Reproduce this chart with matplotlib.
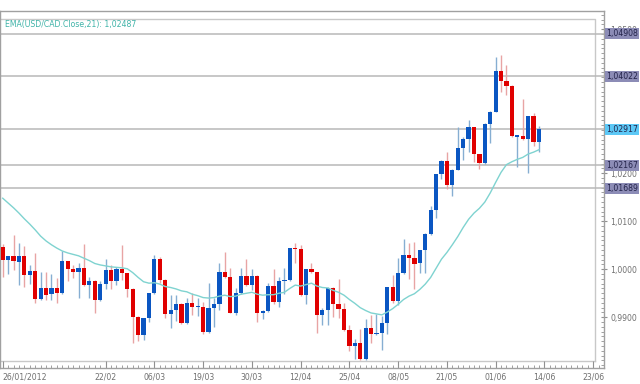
import matplotlib
matplotlib.use("Agg")
import matplotlib.pyplot as plt
from matplotlib.ticker import FixedLocator, FuncFormatter, MultipleLocator
import matplotlib.transforms as mtransforms

# ---------------- data ----------------
opens = [1.0046, 1.0019, 1.0028, 1.0016, 1.0027, 0.9988, 0.9996, 0.9938, 0.9961, 0.9948,
         0.9961, 0.9950, 1.0017, 1.0000, 0.9994, 1.0003, 0.9967, 0.9976, 0.9936, 0.9969,
         0.9998, 0.9976, 1.0000, 0.9992, 0.9959, 0.9901, 0.9863, 0.9898, 0.9950, 1.0021,
         0.9978, 0.9907, 0.9915, 0.9928, 0.9888, 0.9930, 0.9921, 0.9922, 0.9869, 0.9919,
         0.9928, 0.9994, 0.9984, 0.9909, 0.9950, 0.9986, 0.9967, 0.9986, 0.9909, 0.9913,
         0.9965, 0.9932, 0.9976, 0.9978, 1.0044, 1.0042, 0.9946, 1.0000, 0.9994, 0.9905,
         0.9915, 0.9961, 0.9928, 0.9917, 0.9873, 0.9840, 0.9846, 0.9813, 0.9878, 0.9865,
         0.9867, 0.9888, 0.9963, 0.9934, 0.9992, 1.0030, 1.0023, 1.0013, 1.0040, 1.0073,
         1.0123, 1.0198, 1.0226, 1.0176, 1.0207, 1.0253, 1.0271, 1.0296, 1.0240, 1.0221,
         1.0303, 1.0328, 1.0413, 1.0392, 1.0382, 1.0276, 1.0278, 1.0271, 1.0319, 1.0265]
highs = [1.0053, 1.0028, 1.0071, 1.0055, 1.0048, 1.0009, 1.0034, 0.9994, 0.9994, 0.9990,
         0.9982, 1.0038, 1.0018, 1.0009, 1.0013, 1.0053, 0.9984, 0.9977, 0.9976, 1.0021,
         1.0009, 1.0005, 1.0051, 0.9993, 0.9960, 0.9902, 0.9899, 0.9951, 1.0030, 1.0026,
         0.9979, 0.9946, 0.9946, 0.9929, 0.9940, 0.9951, 0.9940, 0.9932, 0.9972, 0.9940,
         1.0013, 1.0036, 1.0003, 0.9961, 1.0003, 1.0021, 1.0000, 0.9987, 0.9915, 0.9972,
         1.0000, 0.9984, 1.0003, 1.0045, 1.0055, 1.0051, 1.0001, 1.0013, 0.9995, 0.9919,
         0.9962, 0.9962, 0.9980, 0.9930, 0.9884, 0.9855, 0.9876, 0.9897, 0.9905, 0.9907,
         0.9903, 0.9964, 0.9988, 1.0023, 1.0063, 1.0055, 1.0057, 1.0041, 1.0076, 1.0132,
         1.0199, 1.0227, 1.0244, 1.0208, 1.0296, 1.0276, 1.0311, 1.0297, 1.0241, 1.0304,
         1.0329, 1.0442, 1.0446, 1.0426, 1.0383, 1.0280, 1.0355, 1.0320, 1.0326, 1.0298]
lows = [0.9984, 0.9990, 0.9998, 0.9967, 0.9963, 0.9969, 0.9930, 0.9936, 0.9936, 0.9936,
        0.9930, 0.9949, 0.9976, 0.9982, 0.9940, 0.9966, 0.9940, 0.9909, 0.9934, 0.9959,
        0.9959, 0.9967, 0.9978, 0.9942, 0.9846, 0.9851, 0.9853, 0.9890, 0.9949, 0.9972,
        0.9898, 0.9878, 0.9892, 0.9887, 0.9887, 0.9905, 0.9903, 0.9865, 0.9867, 0.9880,
        0.9915, 0.9982, 0.9908, 0.9905, 0.9949, 0.9966, 0.9957, 0.9890, 0.9897, 0.9911,
        0.9928, 0.9921, 0.9948, 0.9976, 1.0013, 0.9945, 0.9928, 0.9993, 0.9867, 0.9884,
        0.9884, 0.9901, 0.9898, 0.9872, 0.9830, 0.9813, 0.9812, 0.9812, 0.9846, 0.9863,
        0.9832, 0.9866, 0.9930, 0.9925, 0.9991, 0.9980, 0.9959, 0.9992, 0.9992, 1.0072,
        1.0107, 1.0188, 1.0167, 1.0153, 1.0206, 1.0228, 1.0244, 1.0223, 1.0209, 1.0220,
        1.0263, 1.0327, 1.0369, 1.0363, 1.0276, 1.0213, 1.0269, 1.0201, 1.0257, 1.0244]
closes = [1.0019, 1.0028, 1.0017, 1.0027, 0.9988, 0.9996, 0.9938, 0.9961, 0.9946, 0.9961,
          0.9950, 1.0017, 1.0000, 0.9994, 1.0003, 0.9967, 0.9976, 0.9936, 0.9969, 0.9998,
          0.9976, 1.0000, 0.9992, 0.9959, 0.9901, 0.9863, 0.9898, 0.9950, 1.0021, 0.9978,
          0.9907, 0.9915, 0.9928, 0.9888, 0.9930, 0.9921, 0.9922, 0.9869, 0.9919, 0.9928,
          0.9994, 0.9984, 0.9909, 0.9950, 0.9986, 0.9967, 0.9986, 0.9909, 0.9913, 0.9965,
          0.9932, 0.9976, 0.9978, 1.0044, 1.0042, 0.9946, 1.0000, 0.9994, 0.9905, 0.9915,
          0.9961, 0.9928, 0.9917, 0.9873, 0.9840, 0.9846, 0.9813, 0.9878, 0.9865, 0.9867,
          0.9888, 0.9963, 0.9934, 0.9992, 1.0030, 1.0023, 1.0011, 1.0040, 1.0073, 1.0123,
          1.0198, 1.0226, 1.0176, 1.0207, 1.0253, 1.0271, 1.0296, 1.0240, 1.0221, 1.0303,
          1.0328, 1.0413, 1.0392, 1.0382, 1.0278, 1.0279, 1.0271, 1.0319, 1.0265, 1.0292]
ema21 = [1.0148, 1.0138, 1.0128, 1.0117, 1.0105, 1.0094, 1.0082, 1.0069, 1.0059, 1.0051,
         1.0044, 1.0038, 1.0034, 1.0031, 1.0028, 1.0023, 1.0018, 1.0012, 1.0009, 1.0007,
         1.0005, 1.0004, 1.0003, 1.0001, 0.9993, 0.9983, 0.9974, 0.9971, 0.9972, 0.9969,
         0.9964, 0.9962, 0.9959, 0.9955, 0.9953, 0.9948, 0.9945, 0.9941, 0.9940, 0.9941,
         0.9944, 0.9946, 0.9943, 0.9944, 0.9948, 0.9950, 0.9952, 0.9948, 0.9946, 0.9947,
         0.9947, 0.9950, 0.9952, 0.9960, 0.9967, 0.9965, 0.9968, 0.9971, 0.9965, 0.9962,
         0.9961, 0.9956, 0.9952, 0.9946, 0.9937, 0.9929, 0.9920, 0.9914, 0.9909, 0.9907,
         0.9905, 0.9911, 0.9918, 0.9927, 0.9937, 0.9944, 0.9949, 0.9958, 0.9969, 0.9983,
         1.0002, 1.0021, 1.0035, 1.0051, 1.0068, 1.0087, 1.0104, 1.0117, 1.0127, 1.0140,
         1.0159, 1.0181, 1.0202, 1.0218, 1.0224, 1.0229, 1.0233, 1.0240, 1.0244, 1.0249]

date_pos = [0, 19, 28, 37, 46, 55, 64, 73, 82, 91, 100, 109]
date_labels = ["26/01/2012", "22/02", "06/03", "19/03", "30/03", "12/04",
               "25/04", "08/05", "21/05", "01/06", "14/06", "23/06"]
price_ticks = [0.99, 1.00, 1.01, 1.02, 1.05]
levels = [1.04908, 1.04022, 1.02917, 1.02167, 1.01689]
level_labels = ["1,04908", "1,04022", "1,02917", "1,02167", "1,01689"]
level_colors = ["#8c8cb6", "#8c8cb6", "#5cc8f6", "#8c8cb6", "#8c8cb6"]
legend_text = "EMA(USD/CAD.Close,21): 1,02487"

# ---------------- figure ----------------
W, H = 640, 384
fig = plt.figure(figsize=(W / 100, H / 100), dpi=100)
fig.patch.set_facecolor("white")
ax = fig.add_axes([0, 1 - 368 / H, 604 / W, (368 - 11) / H])
ax.set_facecolor("white")

ax.set_xlim(-0.5, 111.0)
ax.set_ylim(0.97943, 1.05380)

BLUE = "#0a56c2"
RED = "#e00000"
BLUE_WICK = "#86aed2"
RED_WICK = "#e8a4a4"

n = len(closes)
xs = list(range(n))
for i in xs:
    o, h, l, c = opens[i], highs[i], lows[i], closes[i]
    up = c >= o
    ax.vlines(i, l, h, color=BLUE_WICK if up else RED_WICK, lw=1.0, zorder=3)
    bottom = min(o, c)
    height = max(abs(c - o), 0.00022)
    ax.bar(i, height, bottom=bottom, width=0.78, color=BLUE if up else RED,
           edgecolor="none", zorder=4)

# level lines
for lv in levels:
    ax.axhline(lv, color="#b8b8b8", lw=1.1, zorder=2)

# EMA
ax.plot(xs, ema21, color="#7fd3d0", lw=1.0, zorder=5)

# inner box
ax.plot([0, 595 / 604, 595 / 604], [(368 - 19) / 357, (368 - 19) / 357, (368 - 360.5) / 357],
        transform=ax.transAxes, color="#c8c8c8", lw=1.0, zorder=1, clip_on=False)
ax.plot([0, 595 / 604], [(368 - 360.5) / 357] * 2, transform=ax.transAxes,
        color="#c8c8c8", lw=1.0, zorder=1, clip_on=False)

# spines
for side in ["top", "right", "bottom", "left"]:
    ax.spines[side].set_color("#a0a0a0")
    ax.spines[side].set_linewidth(1.0)

# y axis on right
ax.yaxis.tick_right()
ax.yaxis.set_major_locator(FixedLocator(price_ticks))
ax.yaxis.set_minor_locator(MultipleLocator(0.001))
ax.yaxis.set_major_formatter(FuncFormatter(lambda v, p: f"{v:.4f}".replace(".", ",")))
ax.tick_params(axis="y", which="major", direction="inout", length=5, width=0.8,
               color="#909090", labelsize=5.6, labelcolor="#707070", pad=2)
ax.tick_params(axis="y", which="minor", direction="in", length=2.5, width=0.6,
               color="#909090", right=True, left=False)
ax.tick_params(axis="y", left=False)

# x axis
ax.xaxis.set_major_locator(FixedLocator(date_pos))
ax.xaxis.set_minor_locator(MultipleLocator(1))
ax.set_xticklabels(date_labels)
ax.tick_params(axis="x", which="major", direction="in", length=5, width=0.8,
               color="#909090", labelsize=5.6, labelcolor="#707070", pad=3)
ax.tick_params(axis="x", which="minor", direction="in", length=2.5, width=0.6,
               color="#909090")
ax.get_xticklabels()[0].set_horizontalalignment("left")

# right-side level boxes
trans = mtransforms.blended_transform_factory(ax.transAxes, ax.transData)
for lv, lab, col in zip(levels, level_labels, level_colors):
    ax.text(1.004, lv, lab, transform=trans, ha="left", va="center",
            fontsize=5.6, color="#23234a", zorder=10, clip_on=False,
            bbox=dict(boxstyle="square,pad=0.15", facecolor=col, edgecolor="none"))

# legend text
ax.text(5 / 604, (368 - 24) / 357, legend_text, transform=ax.transAxes,
        ha="left", va="center", fontsize=5.6, color="#3fb3a8", zorder=10)

fig.savefig("out.png", dpi=100, facecolor="white")
